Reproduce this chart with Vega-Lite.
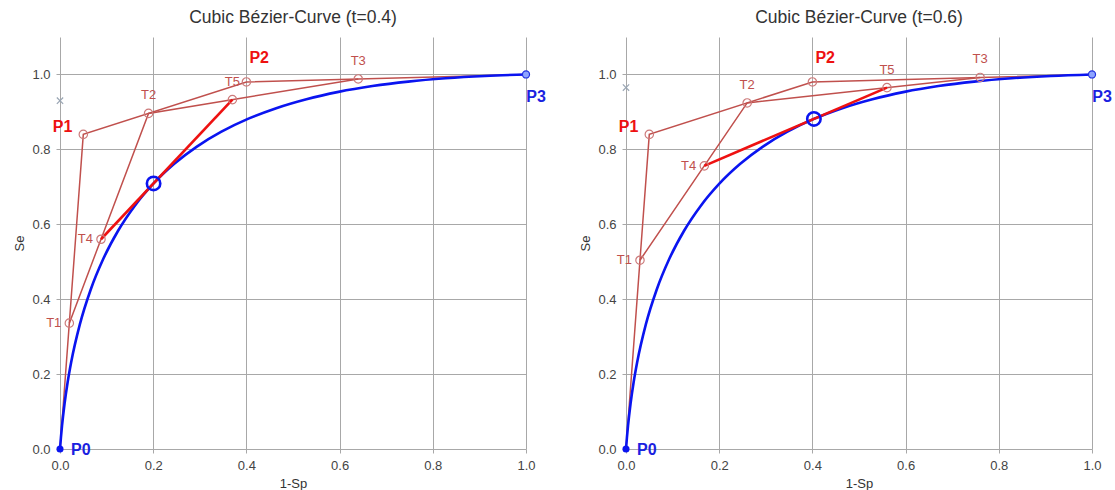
{
  "$schema": "https://vega.github.io/schema/vega-lite/v6.json",
  "background": "white",
  "padding": {"left": 13, "top": 8, "right": 0, "bottom": 0},
  "spacing": 100,
  "bounds": "flush",
  "config": {
    "font": "Liberation Sans",
    "view": {"stroke": null},
    "axis": {
      "grid": true,
      "gridColor": "#a8a8a8",
      "gridWidth": 1,
      "domain": false,
      "tickColor": "#a8a8a8",
      "tickSize": 4,
      "labelFontSize": 13,
      "labelColor": "#444444",
      "labelPadding": 6,
      "labelFlush": false,
      "labelOverlap": false,
      "titleFontSize": 13,
      "titleFontWeight": "normal",
      "titleColor": "#333333",
      "titlePadding": 5
    },
    "title": {"fontSize": 17.5, "fontWeight": "normal", "color": "#333333", "offset": 11}
  },
  "datasets": {
    "curve": [
      {"t": 0, "x": 0, "y": 0},
      {"t": 0.0125, "x": 0.002015, "y": 0.031173},
      {"t": 0.025, "x": 0.004312, "y": 0.061696},
      {"t": 0.05, "x": 0.009744, "y": 0.120823},
      {"t": 0.075, "x": 0.016292, "y": 0.177432},
      {"t": 0.1, "x": 0.02395, "y": 0.23158},
      {"t": 0.15, "x": 0.042581, "y": 0.332708},
      {"t": 0.2, "x": 0.0656, "y": 0.42464},
      {"t": 0.25, "x": 0.092969, "y": 0.507813},
      {"t": 0.3, "x": 0.12465, "y": 0.58266},
      {"t": 0.35, "x": 0.160606, "y": 0.649618},
      {"t": 0.4, "x": 0.2008, "y": 0.70912},
      {"t": 0.45, "x": 0.245194, "y": 0.761598},
      {"t": 0.5, "x": 0.29375, "y": 0.8075},
      {"t": 0.55, "x": 0.346431, "y": 0.847248},
      {"t": 0.6, "x": 0.4032, "y": 0.88128},
      {"t": 0.65, "x": 0.464019, "y": 0.910033},
      {"t": 0.7, "x": 0.52885, "y": 0.93394},
      {"t": 0.75, "x": 0.597656, "y": 0.953438},
      {"t": 0.8, "x": 0.6704, "y": 0.96896},
      {"t": 0.85, "x": 0.747044, "y": 0.980943},
      {"t": 0.9, "x": 0.82755, "y": 0.98982},
      {"t": 0.95, "x": 0.911881, "y": 0.996028},
      {"t": 1, "x": 1, "y": 1}
    ],
    "left": [
      {"name": "P0", "grp": "ctrl", "seq": 0, "x": 0, "y": 0},
      {"name": "P1", "grp": "ctrl", "seq": 1, "x": 0.05, "y": 0.84},
      {"name": "P2", "grp": "ctrl", "seq": 2, "x": 0.4, "y": 0.98},
      {"name": "P3", "grp": "ctrl", "seq": 3, "x": 1, "y": 1},
      {"name": "T1", "grp": "t", "seq": 0, "x": 0.02, "y": 0.336},
      {"name": "T2", "grp": "t", "seq": 1, "x": 0.19, "y": 0.896},
      {"name": "T3", "grp": "t", "seq": 2, "x": 0.64, "y": 0.988},
      {"name": "T4", "grp": "tt", "seq": 0, "x": 0.088, "y": 0.56},
      {"name": "T5", "grp": "tt", "seq": 1, "x": 0.37, "y": 0.9328},
      {"name": "B", "grp": "b", "seq": 0, "x": 0.2008, "y": 0.7091},
      {"name": "X", "grp": "x", "seq": 0, "x": 0, "y": 0.93}
    ],
    "right": [
      {"name": "P0", "grp": "ctrl", "seq": 0, "x": 0, "y": 0},
      {"name": "P1", "grp": "ctrl", "seq": 1, "x": 0.05, "y": 0.84},
      {"name": "P2", "grp": "ctrl", "seq": 2, "x": 0.4, "y": 0.98},
      {"name": "P3", "grp": "ctrl", "seq": 3, "x": 1, "y": 1},
      {"name": "T1", "grp": "t", "seq": 0, "x": 0.03, "y": 0.504},
      {"name": "T2", "grp": "t", "seq": 1, "x": 0.26, "y": 0.924},
      {"name": "T3", "grp": "t", "seq": 2, "x": 0.76, "y": 0.992},
      {"name": "T4", "grp": "tt", "seq": 0, "x": 0.168, "y": 0.756},
      {"name": "T5", "grp": "tt", "seq": 1, "x": 0.56, "y": 0.9648},
      {"name": "B", "grp": "b", "seq": 0, "x": 0.4032, "y": 0.8813},
      {"name": "X", "grp": "x", "seq": 0, "x": 0, "y": 0.965}
    ]
  },
  "hconcat": [
    {
      "title": "Cubic Bézier-Curve (t=0.4)",
      "width": 466,
      "height": 412,
      "data": {"name": "left"},
      "encoding": {
        "x": {"field": "x", "type": "quantitative", "title": "1-Sp", "scale": {"domain": [0, 1], "nice": false}, "axis": {"values": [0, 0.2, 0.4, 0.6, 0.8, 1], "format": ".1f"}},
        "y": {"field": "y", "type": "quantitative", "title": "Se", "scale": {"domain": [0, 1.1], "nice": false}, "axis": {"values": [0, 0.2, 0.4, 0.6, 0.8, 1], "format": ".1f"}}
      },
      "layer": [
        {"transform": [{"filter": "datum.grp == 'ctrl' || datum.grp == 't'"}], "mark": {"type": "line", "color": "#c0504d", "strokeWidth": 1.5, "clip": false}, "encoding": {"detail": {"field": "grp"}, "order": {"field": "seq"}}},
        {"data": {"name": "curve"}, "mark": {"type": "line", "color": "#0a14f0", "strokeWidth": 2.6, "interpolate": "monotone", "clip": false}, "encoding": {"order": {"field": "t"}}},
        {"transform": [{"filter": "datum.grp == 'tt'"}], "mark": {"type": "line", "color": "#ee1111", "strokeWidth": 2.6, "clip": false}, "encoding": {"order": {"field": "seq"}}},
        {"transform": [{"filter": {"field": "name", "oneOf": ["P1", "P2", "T1", "T2", "T3", "T4", "T5"]}}], "mark": {"type": "point", "shape": "circle", "filled": false, "size": 70, "stroke": "#cc7a7a", "strokeWidth": 1.2, "opacity": 1}},
        {"transform": [{"filter": "datum.name == 'B'"}], "mark": {"type": "point", "shape": "circle", "filled": false, "size": 180, "stroke": "#0a14f0", "strokeWidth": 2.6, "opacity": 1}},
        {"transform": [{"filter": "datum.name == 'P0'"}], "mark": {"type": "point", "shape": "circle", "filled": true, "size": 50, "color": "#0a14f0", "opacity": 1}},
        {"transform": [{"filter": "datum.name == 'P3'"}], "mark": {"type": "point", "shape": "circle", "filled": true, "size": 50, "fill": "#8ea4ff", "stroke": "#2030e0", "strokeWidth": 1.2, "opacity": 1}},
        {"transform": [{"filter": "datum.name == 'X'"}], "mark": {"type": "point", "shape": "M-1,-1L1,1M-1,1L1,-1", "filled": false, "size": 40, "stroke": "#9aa6b4", "strokeWidth": 1.2, "opacity": 1}},
        {"transform": [{"filter": {"field": "name", "oneOf": ["T2", "T3", "T5"]}}], "mark": {"type": "text", "color": "#c0504d", "fontSize": 13, "dy": -18, "align": "center"}, "encoding": {"text": {"field": "name"}}},
        {"transform": [{"filter": {"field": "name", "oneOf": ["T1", "T4"]}}], "mark": {"type": "text", "color": "#c0504d", "fontSize": 13, "dx": -8, "align": "right"}, "encoding": {"text": {"field": "name"}}},
        {"transform": [{"filter": "datum.name == 'P0'"}], "mark": {"type": "text", "color": "#1a22e0", "fontSize": 16, "fontWeight": "bold", "dx": 11, "dy": 1, "align": "left"}, "encoding": {"text": {"field": "name"}}},
        {"transform": [{"filter": "datum.name == 'P3'"}], "mark": {"type": "text", "color": "#1a22e0", "fontSize": 16, "fontWeight": "bold", "dx": 10, "dy": 23, "align": "center"}, "encoding": {"text": {"field": "name"}}},
        {"transform": [{"filter": "datum.name == 'P1'"}], "mark": {"type": "text", "color": "#ee1111", "fontSize": 16, "fontWeight": "bold", "dx": -11, "dy": -7, "align": "right"}, "encoding": {"text": {"field": "name"}}},
        {"transform": [{"filter": "datum.name == 'P2'"}], "mark": {"type": "text", "color": "#ee1111", "fontSize": 16, "fontWeight": "bold", "dx": 3, "dy": -24, "align": "left"}, "encoding": {"text": {"field": "name"}}}
      ]
    },
    {
      "title": "Cubic Bézier-Curve (t=0.6)",
      "width": 466,
      "height": 412,
      "data": {"name": "right"},
      "encoding": {
        "x": {"field": "x", "type": "quantitative", "title": "1-Sp", "scale": {"domain": [0, 1], "nice": false}, "axis": {"values": [0, 0.2, 0.4, 0.6, 0.8, 1], "format": ".1f"}},
        "y": {"field": "y", "type": "quantitative", "title": "Se", "scale": {"domain": [0, 1.1], "nice": false}, "axis": {"values": [0, 0.2, 0.4, 0.6, 0.8, 1], "format": ".1f"}}
      },
      "layer": [
        {"transform": [{"filter": "datum.grp == 'ctrl' || datum.grp == 't'"}], "mark": {"type": "line", "color": "#c0504d", "strokeWidth": 1.5, "clip": false}, "encoding": {"detail": {"field": "grp"}, "order": {"field": "seq"}}},
        {"data": {"name": "curve"}, "mark": {"type": "line", "color": "#0a14f0", "strokeWidth": 2.6, "interpolate": "monotone", "clip": false}, "encoding": {"order": {"field": "t"}}},
        {"transform": [{"filter": "datum.grp == 'tt'"}], "mark": {"type": "line", "color": "#ee1111", "strokeWidth": 2.6, "clip": false}, "encoding": {"order": {"field": "seq"}}},
        {"transform": [{"filter": {"field": "name", "oneOf": ["P1", "P2", "T1", "T2", "T3", "T4", "T5"]}}], "mark": {"type": "point", "shape": "circle", "filled": false, "size": 70, "stroke": "#cc7a7a", "strokeWidth": 1.2, "opacity": 1}},
        {"transform": [{"filter": "datum.name == 'B'"}], "mark": {"type": "point", "shape": "circle", "filled": false, "size": 180, "stroke": "#0a14f0", "strokeWidth": 2.6, "opacity": 1}},
        {"transform": [{"filter": "datum.name == 'P0'"}], "mark": {"type": "point", "shape": "circle", "filled": true, "size": 50, "color": "#0a14f0", "opacity": 1}},
        {"transform": [{"filter": "datum.name == 'P3'"}], "mark": {"type": "point", "shape": "circle", "filled": true, "size": 50, "fill": "#8ea4ff", "stroke": "#2030e0", "strokeWidth": 1.2, "opacity": 1}},
        {"transform": [{"filter": "datum.name == 'X'"}], "mark": {"type": "point", "shape": "M-1,-1L1,1M-1,1L1,-1", "filled": false, "size": 40, "stroke": "#9aa6b4", "strokeWidth": 1.2, "opacity": 1}},
        {"transform": [{"filter": {"field": "name", "oneOf": ["T2", "T3", "T5"]}}], "mark": {"type": "text", "color": "#c0504d", "fontSize": 13, "dy": -18, "align": "center"}, "encoding": {"text": {"field": "name"}}},
        {"transform": [{"filter": {"field": "name", "oneOf": ["T1", "T4"]}}], "mark": {"type": "text", "color": "#c0504d", "fontSize": 13, "dx": -8, "align": "right"}, "encoding": {"text": {"field": "name"}}},
        {"transform": [{"filter": "datum.name == 'P0'"}], "mark": {"type": "text", "color": "#1a22e0", "fontSize": 16, "fontWeight": "bold", "dx": 11, "dy": 1, "align": "left"}, "encoding": {"text": {"field": "name"}}},
        {"transform": [{"filter": "datum.name == 'P3'"}], "mark": {"type": "text", "color": "#1a22e0", "fontSize": 16, "fontWeight": "bold", "dx": 10, "dy": 23, "align": "center"}, "encoding": {"text": {"field": "name"}}},
        {"transform": [{"filter": "datum.name == 'P1'"}], "mark": {"type": "text", "color": "#ee1111", "fontSize": 16, "fontWeight": "bold", "dx": -11, "dy": -7, "align": "right"}, "encoding": {"text": {"field": "name"}}},
        {"transform": [{"filter": "datum.name == 'P2'"}], "mark": {"type": "text", "color": "#ee1111", "fontSize": 16, "fontWeight": "bold", "dx": 3, "dy": -24, "align": "left"}, "encoding": {"text": {"field": "name"}}}
      ]
    }
  ]
}
